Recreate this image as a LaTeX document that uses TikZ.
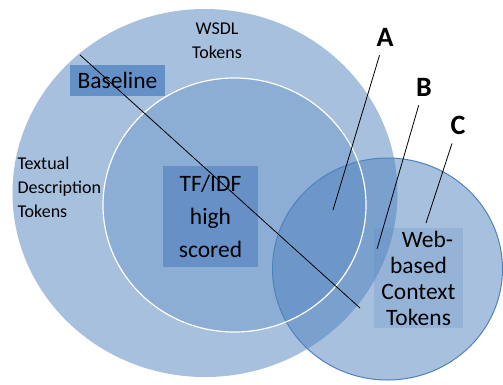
\documentclass[tikz,border=0pt]{standalone}
\usepackage{fontspec}
\setmainfont{Carlito}
\usepackage{tikz}
\usetikzlibrary{shapes.geometric, positioning}
\definecolor{setblue}{HTML}{4F81BD}
\definecolor{boxblue}{HTML}{6490C8}
\definecolor{scoreblue}{HTML}{6690C6}
\begin{document}
\begin{tikzpicture}[
            x=1pt, y=-1pt,
            region/.style={ellipse, fill=setblue, inner sep=0pt},
            tag/.style={fill=boxblue, inner sep=0pt, align=center, text=black},
            small/.style={font=\fontsize{18}{24}\selectfont},
            big/.style={font=\fontsize{23.5}{33}\selectfont},
            letter/.style={font=\fontsize{28}{30}\selectfont\bfseries, inner sep=9pt},
            pointer/.style={-, line width=0.8pt}
        ]
        \useasboundingbox (0,0) rectangle (503,384);

        % Token sets (manual layout to match figure)
        \node[region, fill opacity=0.5, minimum width=385pt, minimum height=368pt] (wsdl) at (205,193) {};
        \node[region, fill opacity=0.5, draw=setblue, line width=1pt, minimum width=230pt, minimum height=222pt] (web) at (387.5,269) {};
        \node[region, fill opacity=0.3, draw=white, line width=1.2pt, minimum width=263pt, minimum height=254pt] (tfidf) at (234.5,205) {};

        % Boxes
        \node[tag, big, minimum width=95pt, minimum height=31pt] (base) at (117.5,80.5) {Baseline};
        \node[tag, big, fill=scoreblue, minimum width=95pt, minimum height=101pt] (score) at (210.5,216.5) {TF/IDF\\high\\scored};
        \node[tag, fill=setblue, fill opacity=0.2, text opacity=1, minimum width=89pt, minimum height=100pt,
              font=\fontsize{23.5}{26}\selectfont] (ctx) at (418.5,278) {\hspace*{18pt}Web-\\based\\Context\\Tokens};

        % Plain labels
        \node[small, align=center] (wsdl-lab) at (217,41) {WSDL\\Tokens};
        \node[small, align=left, anchor=west] (desc-lab) at (14,187) {Textual\\Description\\Tokens};

        % Callouts
        \node[letter] (A) at (385,37) {A};
        \node[letter] (B) at (424,87) {B};
        \node[letter] (C) at (458,125) {C};
        \coordinate (a) at (333,210);
        \coordinate (b) at (377,249);
        \coordinate (c) at (426,223);

        \draw[pointer] (A) -- (a);
        \draw[pointer] (B) -- (b);
        \draw[pointer] (C) -- (c);

        % Cut line
        \coordinate (cut-start) at (80,55);
        \coordinate (cut-end) at (360,308);
        \draw[pointer] (cut-start) -- (cut-end);

    \end{tikzpicture}
\end{document}
